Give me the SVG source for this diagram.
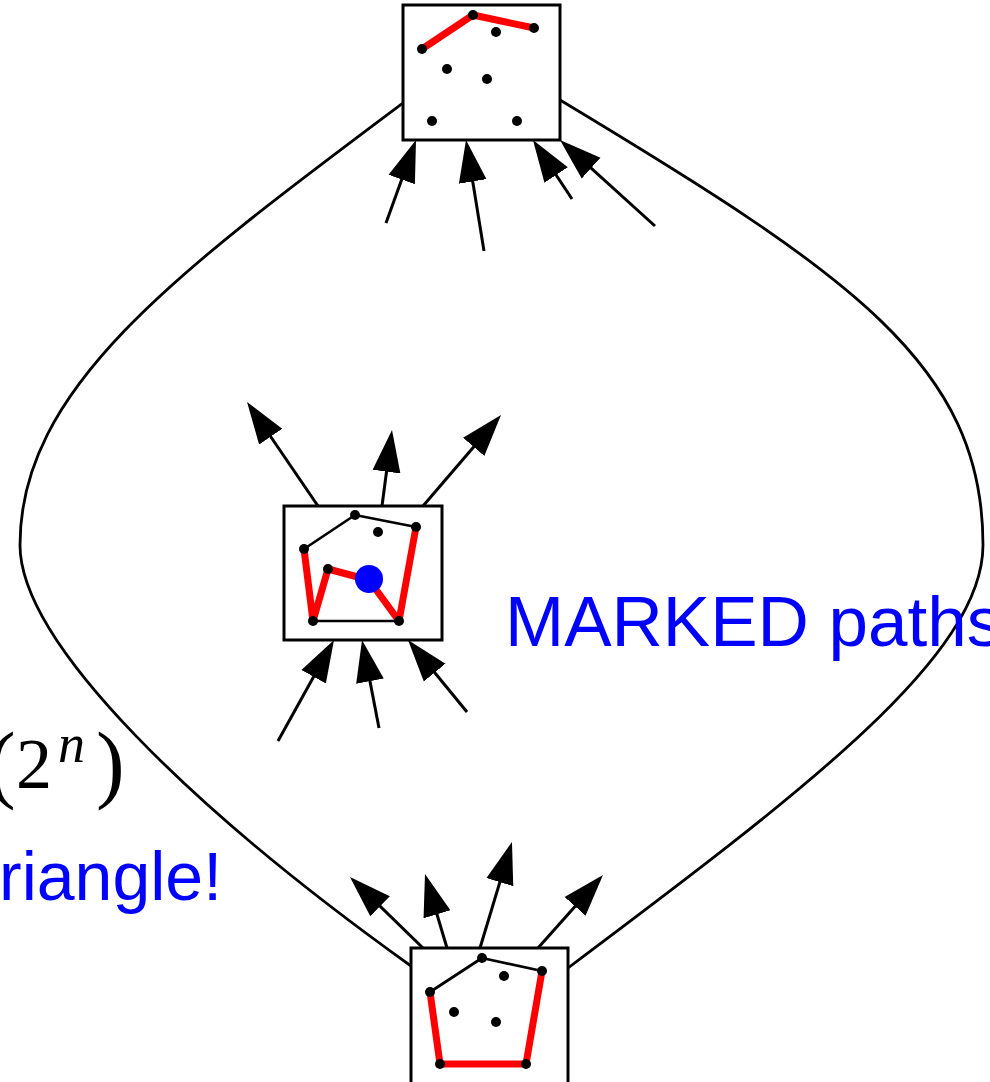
<svg xmlns="http://www.w3.org/2000/svg" width="990" height="1082" viewBox="0 0 990 1082">
<defs>
<style>
.box{fill:#fff;stroke:#000;stroke-width:3}
.blk{fill:none;stroke:#000;stroke-width:2.7;stroke-linejoin:round}
.red{fill:none;stroke:#f00;stroke-width:7;stroke-linejoin:round}
.dot{fill:#000}
.curve{fill:none;stroke:#000;stroke-width:2.8}
.arr{fill:none;stroke:#000;stroke-width:3;marker-end:url(#ah)}
.blue{fill:#0000ff;font-family:"Liberation Sans",Arial,sans-serif}
.math{fill:#000;font-family:"Liberation Serif","Times New Roman",serif}
</style>
<marker id="ah" markerUnits="userSpaceOnUse" markerWidth="46" markerHeight="32" refX="22" refY="15" orient="auto">
<path d="M0,1 L42,15 L0,29 z" fill="#000"/>
</marker>
</defs>
<rect width="990" height="1082" fill="#fff"/>

<g id="connectors">
<path class="curve" d="M403,103 C173,275 20,389 20,545 C20,645 200,815 411,966"/>
<path class="curve" d="M560,100 C851,275 983,365 983,545 C983,655 808,788 568,968"/>
<line class="arr" x1="386" y1="223" x2="409.2" y2="158.8"/>
<line class="arr" x1="484" y1="251" x2="469.2" y2="159.7"/>
<line class="arr" x1="572" y1="199" x2="544" y2="156.7"/>
<line class="arr" x1="655" y1="226" x2="574.8" y2="153.4"/>
<line class="arr" x1="318" y1="506" x2="258.3" y2="418.5"/>
<line class="arr" x1="382" y1="506" x2="389.4" y2="449.8"/>
<line class="arr" x1="423" y1="506" x2="488" y2="430.2"/>
<line class="arr" x1="278" y1="741" x2="324.3" y2="657.5"/>
<line class="arr" x1="379" y1="728" x2="365.8" y2="659.6"/>
<line class="arr" x1="467" y1="712" x2="420.7" y2="655.5"/>
<line class="arr" x1="423" y1="948" x2="364.3" y2="890.9"/>
<line class="arr" x1="447" y1="948" x2="430.7" y2="893.2"/>
<line class="arr" x1="480" y1="948" x2="506.2" y2="861.1"/>
<line class="arr" x1="538" y1="948" x2="589.7" y2="889.9"/>
</g>

<g id="node-top">
<rect class="box" x="403" y="5" width="157" height="135"/>
<polyline class="red" points="422,49 473,15 534,28"/>
<g class="dot">
<circle cx="422" cy="49" r="5"/>
<circle cx="473" cy="15" r="5"/>
<circle cx="534" cy="28" r="5"/>
<circle cx="496" cy="32" r="5"/>
<circle cx="447" cy="69" r="5"/>
<circle cx="487" cy="79" r="5"/>
<circle cx="432" cy="121" r="5"/>
<circle cx="517" cy="121" r="5"/>
</g>
</g>

<g id="node-middle">
<rect class="box" x="284" y="506" width="158" height="134"/>
<polyline class="blk" points="304,549 355,515 416,527"/>
<line class="blk" x1="313" y1="621" x2="399" y2="621"/>
<polyline class="red" points="304,549 313,621 328,569 369,580 399,621 416,527"/>
<g class="dot">
<circle cx="304" cy="549" r="5"/>
<circle cx="355" cy="515" r="5"/>
<circle cx="416" cy="527" r="5"/>
<circle cx="378" cy="532" r="5"/>
<circle cx="328" cy="569" r="5"/>
<circle cx="313" cy="621" r="5"/>
<circle cx="399" cy="621" r="5"/>
</g>
<circle cx="369" cy="579" r="14" fill="#0000ff"/>
</g>

<g id="node-bottom">
<rect class="box" x="411" y="948" width="157" height="150"/>
<polyline class="blk" points="430,992 482,958 542,971"/>
<polyline class="red" points="430,992 440,1064 526,1064 542,971"/>
<g class="dot">
<circle cx="430" cy="992" r="5"/>
<circle cx="482" cy="958" r="5"/>
<circle cx="542" cy="971" r="5"/>
<circle cx="504" cy="976" r="5"/>
<circle cx="454" cy="1012" r="5"/>
<circle cx="496" cy="1022" r="5"/>
<circle cx="440" cy="1064" r="5"/>
<circle cx="526" cy="1064" r="5"/>
</g>
</g>

<g id="label-marked">
<text class="blue" x="505" y="646" font-size="71">MARKED paths</text>
</g>
<g id="label-triangle">
<text class="blue" x="-1" y="900" font-size="68">riangle!</text>
</g>
<g id="label-complexity">
<text class="math" x="-13" y="792" font-size="86">(</text>
<text class="math" x="16" y="788" font-size="72">2</text>
<text class="math" x="58" y="762" font-size="54" font-style="italic">n</text>
<text class="math" x="96" y="792" font-size="86">)</text>
</g>
</svg>
